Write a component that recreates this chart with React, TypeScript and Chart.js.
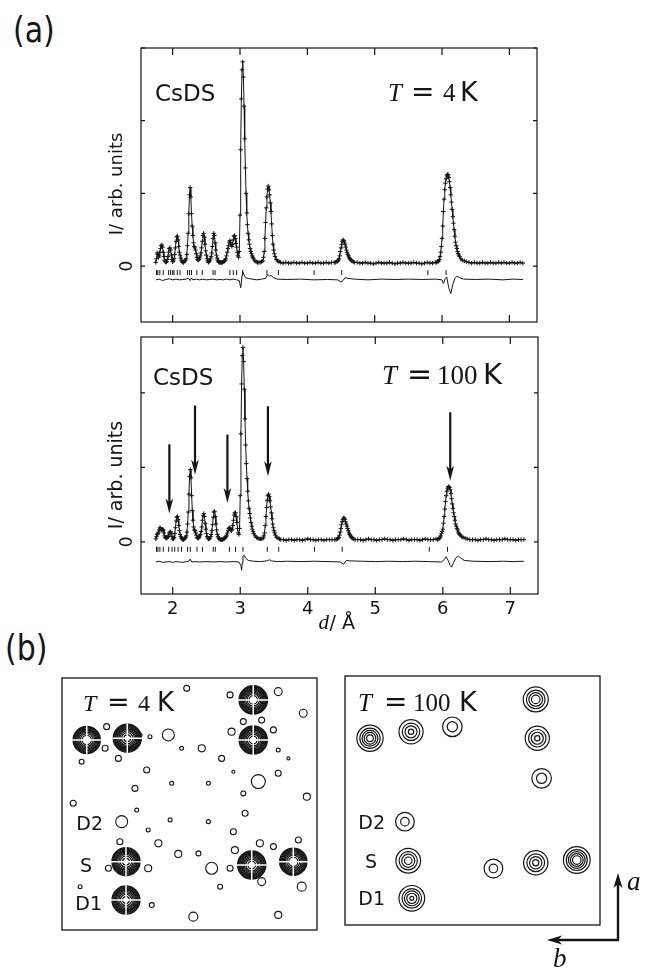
import React, { useEffect, useRef } from "react";
import { Chart, registerables } from "chart.js";
Chart.register(...registerables);

const SANS = '"DejaVu Sans", sans-serif';
const SERIF = '"Liberation Serif", "DejaVu Serif", serif';
const INK = "#151515";

// ---------------- panel (a): powder patterns ----------------
const X_TICKS = [2, 3, 4, 5, 6, 7];
const X_TICK_LABELS = ["2", "3", "4", "5", "6", "7"];
const Y_TICKS_4K = [0, 1, 2, 3];
const Y_TICKS_100K = [0, 1, 2];

// d-spacing sample positions (Å)
const D_GRID = [
  1.75, 1.76, 1.77, 1.78, 1.79,
  1.80, 1.81, 1.82, 1.83, 1.84, 1.85, 1.86, 1.87, 1.88, 1.89,
  1.90, 1.91, 1.92, 1.93, 1.94, 1.95, 1.96, 1.97, 1.98, 1.99,
  2.00, 2.01, 2.02, 2.03, 2.04, 2.05, 2.06, 2.07, 2.08, 2.09,
  2.10, 2.11, 2.12, 2.13, 2.14, 2.15, 2.16, 2.17, 2.18, 2.19,
  2.20, 2.21, 2.22, 2.23, 2.24, 2.25, 2.26, 2.27, 2.28, 2.29,
  2.30, 2.31, 2.32, 2.33, 2.34, 2.35, 2.36, 2.37, 2.38, 2.39,
  2.40, 2.41, 2.42, 2.43, 2.44, 2.45, 2.46, 2.47, 2.48, 2.49,
  2.50, 2.51, 2.52, 2.53, 2.54, 2.55, 2.56, 2.57, 2.58, 2.59,
  2.60, 2.61, 2.62, 2.63, 2.64, 2.65, 2.66, 2.67, 2.68, 2.69,
  2.70, 2.71, 2.72, 2.73, 2.74, 2.75, 2.76, 2.77, 2.78, 2.79,
  2.80, 2.81, 2.82, 2.83, 2.84, 2.85, 2.86, 2.87, 2.88, 2.89,
  2.90, 2.91, 2.92, 2.93, 2.94, 2.95, 2.96, 2.97, 2.98, 2.99,
  3.00, 3.01, 3.02, 3.03, 3.04, 3.05, 3.06, 3.07, 3.08, 3.09,
  3.10, 3.11, 3.12, 3.13, 3.14, 3.15, 3.16, 3.17, 3.18, 3.19,
  3.20,
  3.22, 3.24, 3.26, 3.28, 3.30, 3.32,
  3.34, 3.35, 3.36, 3.37, 3.38, 3.39, 3.40, 3.41, 3.42, 3.43,
  3.44, 3.45, 3.46, 3.47, 3.48, 3.49, 3.50, 3.51, 3.52,
  3.54, 3.56, 3.58, 3.60,
  3.64, 3.68, 3.72, 3.76, 3.80, 3.84, 3.88, 3.92, 3.96, 4.00,
  4.04, 4.08, 4.12, 4.16, 4.20, 4.24, 4.28, 4.32, 4.36, 4.40,
  4.42,
  4.44, 4.45, 4.46, 4.47, 4.48, 4.49, 4.50, 4.51, 4.52, 4.53,
  4.54, 4.55, 4.56, 4.57, 4.58, 4.59, 4.60, 4.61, 4.62, 4.63,
  4.64, 4.65, 4.66,
  4.68, 4.70,
  4.74, 4.78, 4.82, 4.86, 4.90, 4.94, 4.98, 5.02, 5.06, 5.10,
  5.14, 5.18, 5.22, 5.26, 5.30, 5.34, 5.38, 5.42, 5.46, 5.50,
  5.54, 5.58, 5.62, 5.66, 5.70, 5.74, 5.78, 5.82, 5.86, 5.90,
  5.92,
  5.94, 5.95, 5.96, 5.97, 5.98, 5.99,
  6.00, 6.01, 6.02, 6.03, 6.04, 6.05, 6.06, 6.07, 6.08, 6.09,
  6.10, 6.11, 6.12, 6.13, 6.14, 6.15, 6.16, 6.17, 6.18, 6.19,
  6.20, 6.21, 6.22, 6.23, 6.24, 6.25, 6.26,
  6.28, 6.30, 6.33, 6.36, 6.40,
  6.44, 6.48, 6.52, 6.56, 6.60, 6.64, 6.68, 6.72, 6.76, 6.80,
  6.84, 6.88, 6.92, 6.96, 7.00, 7.04, 7.08, 7.12, 7.16, 7.20,
];

// observed intensity, T = 4 K (arb. units)
const I_4K = [
  0.05, 0.10, 0.18, 0.16, 0.12,
  0.14, 0.19, 0.24, 0.28, 0.29, 0.26, 0.19, 0.13, 0.08, 0.06,
  0.05, 0.06, 0.09, 0.13, 0.19, 0.24, 0.25, 0.22, 0.15, 0.09,
  0.06, 0.07, 0.10, 0.16, 0.25, 0.34, 0.40, 0.41, 0.36, 0.27,
  0.19, 0.15, 0.11, 0.08, 0.06, 0.05, 0.05, 0.06, 0.07, 0.08,
  0.10, 0.16, 0.28, 0.45, 0.72, 0.98, 1.08, 0.95, 0.72, 0.55,
  0.42, 0.32, 0.27, 0.25, 0.22, 0.17, 0.12, 0.09, 0.08, 0.09,
  0.11, 0.14, 0.18, 0.25, 0.34, 0.42, 0.45, 0.40, 0.30, 0.21,
  0.15, 0.10, 0.07, 0.05, 0.06, 0.08, 0.10, 0.13, 0.18, 0.27,
  0.38, 0.45, 0.42, 0.32, 0.22, 0.15, 0.11, 0.08, 0.06, 0.05,
  0.05, 0.05, 0.05, 0.05, 0.05, 0.06, 0.06, 0.07, 0.08, 0.10,
  0.14, 0.19, 0.24, 0.28, 0.33, 0.35, 0.32, 0.29, 0.27, 0.30,
  0.36, 0.41, 0.42, 0.38, 0.31, 0.26, 0.19, 0.14, 0.12, 0.20,
  0.70, 1.60, 2.30, 2.70, 2.81, 2.60, 2.20, 1.75, 1.35, 1.00,
  0.73, 0.57, 0.45, 0.36, 0.30, 0.24, 0.20, 0.17, 0.14, 0.12,
  0.10,
  0.07, 0.06, 0.05, 0.05, 0.05, 0.06,
  0.07, 0.12, 0.20, 0.38, 0.60, 0.80, 0.95, 1.06, 1.10, 1.05,
  0.98, 0.87, 0.75, 0.58, 0.42, 0.30, 0.22, 0.17, 0.13,
  0.09, 0.07, 0.06, 0.05,
  0.04, 0.05, 0.04, 0.04, 0.05, 0.04, 0.04, 0.05, 0.04, 0.04,
  0.05, 0.04, 0.04, 0.05, 0.04, 0.04, 0.05, 0.04, 0.05, 0.05,
  0.05,
  0.06, 0.07, 0.08, 0.10, 0.14, 0.20, 0.25, 0.30, 0.34, 0.36,
  0.35, 0.33, 0.30, 0.26, 0.22, 0.19, 0.16, 0.14, 0.12, 0.10,
  0.09, 0.08, 0.07,
  0.06, 0.05,
  0.05, 0.04, 0.04, 0.05, 0.04, 0.04, 0.03, 0.04, 0.05, 0.04,
  0.04, 0.04, 0.05, 0.04, 0.03, 0.04, 0.04, 0.05, 0.04, 0.04,
  0.04, 0.05, 0.04, 0.04, 0.03, 0.04, 0.05, 0.04, 0.04, 0.05,
  0.05,
  0.06, 0.07, 0.09, 0.13, 0.19, 0.27,
  0.38, 0.55, 0.75, 0.92, 1.05, 1.14, 1.20, 1.24, 1.26, 1.26,
  1.22, 1.16, 1.08, 0.98, 0.88, 0.78, 0.68, 0.59, 0.50, 0.41,
  0.33, 0.28, 0.24, 0.20, 0.17, 0.15, 0.13,
  0.10, 0.08, 0.07, 0.06, 0.05,
  0.04, 0.05, 0.04, 0.04, 0.05, 0.04, 0.04, 0.05, 0.04, 0.04,
  0.05, 0.04, 0.05, 0.04, 0.04, 0.05, 0.04, 0.04, 0.05, 0.04,
];

// observed intensity, T = 100 K (arb. units)
const I_100K = [
  0.04, 0.07, 0.10, 0.11, 0.13,
  0.16, 0.19, 0.18, 0.16, 0.16, 0.17, 0.16, 0.12, 0.08, 0.06,
  0.05, 0.05, 0.06, 0.07, 0.09, 0.12, 0.13, 0.135, 0.11, 0.07,
  0.04, 0.04, 0.06, 0.11, 0.19, 0.28, 0.33, 0.34, 0.30, 0.22,
  0.15, 0.10, 0.07, 0.05, 0.04, 0.03, 0.03, 0.04, 0.05, 0.06,
  0.08, 0.13, 0.24, 0.40, 0.64, 0.88, 0.97, 0.86, 0.62, 0.42,
  0.29, 0.20, 0.16, 0.15, 0.12, 0.09, 0.06, 0.05, 0.05, 0.06,
  0.08, 0.10, 0.14, 0.20, 0.29, 0.35, 0.38, 0.34, 0.25, 0.17,
  0.11, 0.07, 0.05, 0.04, 0.04, 0.05, 0.07, 0.10, 0.15, 0.23,
  0.33, 0.40, 0.41, 0.34, 0.24, 0.16, 0.10, 0.07, 0.05, 0.04,
  0.03, 0.03, 0.03, 0.03, 0.03, 0.04, 0.04, 0.05, 0.06, 0.07,
  0.09, 0.12, 0.15, 0.18, 0.19, 0.18, 0.16, 0.15, 0.17, 0.22,
  0.29, 0.36, 0.39, 0.39, 0.34, 0.26, 0.18, 0.12, 0.10, 0.18,
  0.62, 1.45, 2.12, 2.50, 2.61, 2.42, 2.05, 1.65, 1.30, 1.05,
  0.85, 0.68, 0.55, 0.45, 0.38, 0.32, 0.26, 0.21, 0.17, 0.14,
  0.11,
  0.08, 0.06, 0.05, 0.04, 0.04, 0.04,
  0.05, 0.08, 0.12, 0.22, 0.34, 0.46, 0.56, 0.62, 0.64, 0.61,
  0.55, 0.47, 0.39, 0.31, 0.24, 0.19, 0.15, 0.12, 0.09,
  0.06, 0.05, 0.04, 0.03,
  0.03, 0.02, 0.03, 0.03, 0.02, 0.03, 0.03, 0.02, 0.03, 0.04,
  0.03, 0.03, 0.02, 0.03, 0.03, 0.02, 0.03, 0.03, 0.03, 0.03,
  0.03,
  0.04, 0.05, 0.06, 0.09, 0.13, 0.18, 0.23, 0.27, 0.30, 0.32,
  0.32, 0.30, 0.27, 0.24, 0.21, 0.18, 0.15, 0.12, 0.10, 0.09,
  0.07, 0.06, 0.05,
  0.04, 0.03,
  0.03, 0.03, 0.02, 0.03, 0.04, 0.03, 0.03, 0.02, 0.03, 0.03,
  0.04, 0.03, 0.03, 0.02, 0.03, 0.03, 0.03, 0.04, 0.03, 0.02,
  0.03, 0.03, 0.03, 0.02, 0.03, 0.04, 0.03, 0.03, 0.03, 0.04,
  0.03,
  0.04, 0.05, 0.06, 0.08, 0.11, 0.14,
  0.17, 0.25, 0.34, 0.44, 0.54, 0.62, 0.68, 0.72, 0.74, 0.74,
  0.73, 0.70, 0.65, 0.58, 0.51, 0.45, 0.39, 0.34, 0.29, 0.24,
  0.21, 0.18, 0.16, 0.13, 0.11, 0.10, 0.09,
  0.07, 0.06, 0.05, 0.04, 0.03,
  0.03, 0.03, 0.02, 0.03, 0.03, 0.04, 0.03, 0.03, 0.02, 0.03,
  0.03, 0.03, 0.04, 0.03, 0.03, 0.03, 0.02, 0.03, 0.03, 0.03,
];

// difference curves [d, obs - calc + offset]
const DIFF_4K = [
  [1.75, -0.19], [1.80, -0.18], [1.85, -0.2], [1.90, -0.185], [1.95, -0.175], [2.00, -0.19],
  [2.05, -0.18], [2.10, -0.19], [2.15, -0.185], [2.20, -0.18], [2.24, -0.17], [2.26, -0.2],
  [2.28, -0.165], [2.30, -0.19], [2.35, -0.18], [2.40, -0.19], [2.45, -0.18], [2.50, -0.19],
  [2.55, -0.185], [2.60, -0.18], [2.65, -0.19], [2.70, -0.185], [2.75, -0.19], [2.80, -0.18],
  [2.85, -0.19], [2.90, -0.18], [2.95, -0.19], [2.99, -0.2], [3.01, -0.3], [3.02, -0.24],
  [3.03, -0.12], [3.04, -0.08], [3.06, -0.12], [3.08, -0.16], [3.12, -0.17], [3.18, -0.18],
  [3.25, -0.19], [3.32, -0.18], [3.38, -0.17], [3.40, -0.13], [3.42, -0.12], [3.44, -0.14],
  [3.46, -0.13], [3.50, -0.16], [3.55, -0.18], [3.70, -0.185], [3.90, -0.18], [4.10, -0.19],
  [4.30, -0.185], [4.45, -0.19], [4.50, -0.22], [4.53, -0.2], [4.56, -0.16], [4.60, -0.17],
  [4.70, -0.18], [4.90, -0.19], [5.10, -0.18], [5.30, -0.185], [5.50, -0.18], [5.70, -0.185],
  [5.90, -0.18], [6.00, -0.19], [6.02, -0.24], [6.05, -0.17], [6.07, -0.15], [6.10, -0.3],
  [6.13, -0.38], [6.16, -0.25], [6.19, -0.17], [6.22, -0.14], [6.26, -0.16], [6.32, -0.18],
  [6.50, -0.185], [6.70, -0.18], [6.90, -0.19], [7.05, -0.18], [7.20, -0.185],
];
const DIFF_100K = [
  [1.75, -0.27], [1.80, -0.26], [1.85, -0.275], [1.90, -0.27], [1.95, -0.265], [2.00, -0.275],
  [2.05, -0.265], [2.10, -0.27], [2.15, -0.275], [2.20, -0.265], [2.24, -0.26], [2.26, -0.23],
  [2.28, -0.27], [2.32, -0.265], [2.40, -0.27], [2.50, -0.265], [2.60, -0.27], [2.70, -0.265],
  [2.80, -0.27], [2.90, -0.265], [2.98, -0.27], [3.01, -0.32], [3.02, -0.38], [3.03, -0.28],
  [3.04, -0.19], [3.06, -0.18], [3.08, -0.22], [3.12, -0.25], [3.20, -0.26], [3.30, -0.265],
  [3.40, -0.255], [3.43, -0.24], [3.46, -0.255], [3.55, -0.265], [3.70, -0.26], [3.90, -0.265],
  [4.10, -0.26], [4.30, -0.265], [4.48, -0.27], [4.53, -0.3], [4.57, -0.25], [4.62, -0.255],
  [4.80, -0.26], [5.00, -0.265], [5.20, -0.26], [5.40, -0.265], [5.60, -0.26], [5.80, -0.265],
  [5.98, -0.27], [6.02, -0.24], [6.05, -0.2], [6.08, -0.25], [6.11, -0.32], [6.13, -0.34],
  [6.16, -0.28], [6.19, -0.22], [6.23, -0.19], [6.27, -0.22], [6.32, -0.25], [6.45, -0.26],
  [6.70, -0.265], [6.90, -0.26], [7.05, -0.265], [7.20, -0.26],
];

// Bragg reflection positions (Å)
const REFL_4K = [1.76, 1.78, 1.81, 1.86, 1.94, 1.97, 2.0, 2.02, 2.07, 2.11, 2.22, 2.25, 2.28, 2.36, 2.44, 2.6, 2.63, 2.85, 2.9, 2.95, 3.04, 3.4, 3.57, 4.1, 4.51, 5.79, 6.06];
const REFL_100K = [1.76, 1.78, 1.81, 1.86, 1.94, 1.99, 2.03, 2.08, 2.13, 2.22, 2.26, 2.36, 2.44, 2.6, 2.63, 2.84, 2.93, 3.04, 3.4, 3.57, 4.1, 4.51, 5.8, 6.07];
const REFL_LEVEL_4K = -0.09;
const REFL_LEVEL_100K = -0.1;

// arrows marking reflections in the 100 K pattern: position, tail, tip (intensity units)
const ARROW_D = [1.95, 2.33, 2.81, 3.41, 6.11];
const ARROW_TAIL = [1.31, 1.83, 1.44, 1.82, 1.74];
const ARROW_TIP = [0.38, 0.9, 0.52, 0.88, 0.82];

// ---------------- panel (b): Fourier maps ----------------
// strong scattering-density peaks at 4 K: [u, v, amplitude]
const PEAKS_4K = [
  [0.097, 0.754, 10.5], [0.256, 0.761, 12], [0.75, 0.913, 13], [0.75, 0.754, 12.5],
  [0.251, 0.271, 12], [0.251, 0.119, 12], [0.744, 0.258, 12.5], [0.907, 0.271, 10.5],
];
// weak noise features at 4 K: [u, v, amplitude]
const WEAK_4K = [
  [0.489, 0.959, 1.12], [0.659, 0.933, 1.12], [0.848, 0.946, 1.22], [0.946, 0.86, 1.22],
  [0.175, 0.807, 1.12], [0.169, 0.721, 1.12], [0.221, 0.681, 1.12], [0.306, 0.774, 1.05],
  [0.345, 0.767, 1.05], [0.417, 0.774, 1.57], [0.077, 0.668, 1.08], [0.469, 0.721, 1.05],
  [0.548, 0.721, 1.17], [0.626, 0.681, 1.12], [0.711, 0.827, 1.12], [0.783, 0.833, 1.12],
  [0.829, 0.794, 1.12], [0.665, 0.787, 1.17], [0.848, 0.714, 1.05], [0.888, 0.681, 1.03],
  [0.332, 0.635, 1.12], [0.43, 0.582, 1.05], [0.574, 0.582, 1.05], [0.672, 0.628, 1.03],
  [0.77, 0.589, 1.85], [0.848, 0.622, 1.12], [0.711, 0.542, 1.08], [0.286, 0.562, 1.12],
  [0.044, 0.503, 1.12], [0.96, 0.529, 1.17], [0.293, 0.476, 1.05], [0.234, 0.43, 1.57],
  [0.424, 0.437, 1.05], [0.574, 0.43, 1.05], [0.718, 0.463, 1.12], [0.672, 0.39, 1.12],
  [0.227, 0.35, 1.12], [0.378, 0.344, 1.17], [0.456, 0.302, 1.17], [0.535, 0.304, 1.08],
  [0.587, 0.245, 1.57], [0.659, 0.245, 1.12], [0.776, 0.344, 1.17], [0.829, 0.331, 1.12],
  [0.927, 0.357, 1.12], [0.338, 0.245, 1.17], [0.182, 0.245, 1.12], [0.62, 0.172, 1.08],
  [0.783, 0.192, 1.22], [0.94, 0.172, 1.29], [0.352, 0.099, 1.08], [0.515, 0.053, 1.29],
  [0.848, 0.06, 1.17], [0.071, 0.172, 1.05], [0.338, 0.397, 1.05], [0.678, 0.317, 1.17],
];
const LEVELS_4K = [1, 1.3, 1.7, 2.2, 2.9, 3.7, 4.8, 6.2, 8.0, 10.4];

// peaks at 100 K: [u, v, amplitude]
const PEAKS_100K = [
  [0.098, 0.75, 5.6], [0.259, 0.776, 4.3], [0.421, 0.796, 2.6], [0.748, 0.906, 4.8],
  [0.754, 0.75, 4.3], [0.771, 0.589, 2.6], [0.235, 0.415, 2.4], [0.248, 0.258, 4.6],
  [0.582, 0.227, 2.4], [0.748, 0.25, 4.4], [0.909, 0.261, 6.0], [0.262, 0.107, 5.2],
];
const LEVELS_100K = [1, 2, 3, 4, 5];

// ---------------- helpers ----------------
const SIGMA_4K = 6.3; // px width of a peak on the map
const SIGMA_100K = 7.07;
const ringRadius = (amp, level, sigma) => (amp > level ? sigma * Math.sqrt(2 * Math.log(amp / level)) : 0);

function tempLabel(ctx, x, baseline, size, value, offs) {
  ctx.textAlign = "left";
  ctx.textBaseline = "alphabetic";
  ctx.fillStyle = INK;
  ctx.font = `italic ${size}px ${SERIF}`;
  ctx.fillText("T", x + offs[0], baseline);
  ctx.font = `${size + 3}px ${SANS}`;
  ctx.fillText("=", x + offs[1], baseline);
  ctx.font = `${size}px ${SERIF}`;
  ctx.fillText(value, x + offs[2], baseline);
  ctx.font = `${Math.round(size * 1.08)}px ${SANS}`;
  ctx.fillText("K", x + offs[3], baseline);
}

function patternPlugin(p) {
  return {
    id: "patternFrame",
    afterDraw(chart) {
      const { ctx, chartArea: a } = chart;
      const xs = chart.scales.x;
      const ys = chart.scales.y;
      ctx.save();
      ctx.strokeStyle = INK;
      ctx.lineWidth = 1.2;
      ctx.strokeRect(a.left, a.top, a.right - a.left, a.bottom - a.top);
      ctx.beginPath();
      X_TICKS.forEach((t) => {
        const px = xs.getPixelForValue(t);
        ctx.moveTo(px, a.bottom);
        ctx.lineTo(px, a.bottom - 7);
        ctx.moveTo(px, a.top);
        ctx.lineTo(px, a.top + 7);
      });
      p.yTicks.forEach((t) => {
        const py = ys.getPixelForValue(t);
        ctx.moveTo(a.left, py);
        ctx.lineTo(a.left + 4, py);
        ctx.moveTo(a.right, py);
        ctx.lineTo(a.right - 4, py);
      });
      ctx.stroke();

      // arrows
      if (p.arrows) {
        ARROW_D.forEach((d, i) => {
          const px = xs.getPixelForValue(d);
          const y1 = ys.getPixelForValue(ARROW_TAIL[i]);
          const y2 = ys.getPixelForValue(ARROW_TIP[i]);
          ctx.lineWidth = 2.2;
          ctx.beginPath();
          ctx.moveTo(px, y1);
          ctx.lineTo(px, y2 - 10);
          ctx.stroke();
          ctx.beginPath();
          ctx.moveTo(px, y2);
          ctx.lineTo(px - 3.8, y2 - 15);
          ctx.lineTo(px, y2 - 11);
          ctx.lineTo(px + 3.8, y2 - 15);
          ctx.closePath();
          ctx.fillStyle = INK;
          ctx.fill();
        });
      }

      ctx.fillStyle = INK;
      // sample name
      ctx.font = `23px ${SANS}`;
      ctx.textAlign = "left";
      ctx.textBaseline = "alphabetic";
      ctx.fillText("CsDS", a.left + p.nameDx, a.top + p.nameDy);
      tempLabel(ctx, a.left + p.tDx, a.top + p.tDy, p.tSize, p.tValue, p.tOffs);

      // y-axis title and zero label (rotated)
      ctx.save();
      ctx.translate(a.left - 24, a.top + p.yTitleDy);
      ctx.rotate(-Math.PI / 2);
      ctx.font = `${p.yTitleSize}px ${SANS}`;
      ctx.textAlign = "center";
      ctx.textBaseline = "middle";
      ctx.fillText("I/ arb. units", 0, 0);
      ctx.restore();
      ctx.save();
      ctx.translate(a.left - 13, ys.getPixelForValue(0));
      ctx.rotate(-Math.PI / 2);
      ctx.font = `17px ${SANS}`;
      ctx.textAlign = "center";
      ctx.textBaseline = "middle";
      ctx.fillText("0", 0, 0);
      ctx.restore();

      if (p.xLabels) {
        ctx.font = `18px ${SANS}`;
        ctx.textAlign = "center";
        ctx.textBaseline = "middle";
        X_TICKS.forEach((t, i) => ctx.fillText(X_TICK_LABELS[i], xs.getPixelForValue(t), a.bottom + 15));
        const cx = (a.left + a.right) / 2;
        const base = a.bottom + 35;
        ctx.textAlign = "left";
        ctx.textBaseline = "alphabetic";
        ctx.font = `italic 21px ${SERIF}`;
        ctx.fillText("d", cx - 21, base);
        ctx.font = `19px ${SANS}`;
        ctx.fillText("/ Å", cx - 10, base);
      }
      ctx.restore();
    },
  };
}

function patternConfig(p) {
  const obs = D_GRID.slice(0, p.intensity.length).map((d, i) => ({ x: d, y: p.intensity[i] }));
  return {
    type: "scatter",
    data: {
      datasets: [
        {
          data: obs,
          showLine: true,
          borderColor: INK,
          borderWidth: 1,
          pointStyle: "cross",
          pointRadius: 2.2,
          pointBorderColor: INK,
          pointBorderWidth: 1,
          order: 1,
        },
        {
          data: p.diff.map(([x, y]) => ({ x, y })),
          showLine: true,
          borderColor: INK,
          borderWidth: 1,
          pointRadius: 0,
          order: 2,
        },
        {
          data: p.refl.map((d) => ({ x: d, y: p.reflLevel })),
          showLine: false,
          pointStyle: "line",
          pointRotation: 90,
          pointRadius: 2.5,
          pointBorderColor: INK,
          pointBorderWidth: 1,
          order: 3,
        },
      ],
    },
    options: {
      responsive: false,
      maintainAspectRatio: false,
      animation: false,
      devicePixelRatio: 1,
      events: [],
      layout: { padding: p.padding, autoPadding: false },
      plugins: { legend: { display: false }, tooltip: { enabled: false } },
      elements: { line: { tension: 0 } },
      scales: {
        x: { type: "linear", min: 1.53, max: 7.41, display: false },
        y: { type: "linear", min: p.ymin, max: p.ymax, display: false },
      },
    },
    plugins: [patternPlugin(p)],
  };
}

function mapPlugin(m) {
  return {
    id: "mapFrame",
    afterDraw(chart) {
      const { ctx, chartArea: a } = chart;
      ctx.save();
      ctx.strokeStyle = INK;
      ctx.lineWidth = 1.3;
      ctx.strokeRect(a.left, a.top, a.right - a.left, a.bottom - a.top);
      tempLabel(ctx, a.left + m.tDx, a.top + m.tDy, m.tSize, m.tValue, m.tOffs);
      ctx.font = `19px ${SANS}`;
      ctx.textAlign = "right";
      ctx.textBaseline = "alphabetic";
      ctx.fillStyle = INK;
      m.labels.forEach(([t, dx, dy]) => ctx.fillText(t, a.left + dx, a.top + dy));
      if (m.axes) {
        const cx = a.right + 18;
        const cy = a.bottom + 15;
        ctx.lineWidth = 2.4;
        ctx.beginPath();
        ctx.moveTo(cx, cy + 1);
        ctx.lineTo(cx, a.bottom - 52 + 10);
        ctx.moveTo(cx + 1, cy);
        ctx.lineTo(a.right - 53 + 10, cy);
        ctx.stroke();
        ctx.beginPath();
        const ty = a.bottom - 52;
        ctx.moveTo(cx, ty);
        ctx.lineTo(cx - 4.5, ty + 15);
        ctx.lineTo(cx, ty + 11);
        ctx.lineTo(cx + 4.5, ty + 15);
        ctx.closePath();
        const tx = a.right - 53;
        ctx.moveTo(tx, cy);
        ctx.lineTo(tx + 15, cy - 4.5);
        ctx.lineTo(tx + 11, cy);
        ctx.lineTo(tx + 15, cy + 4.5);
        ctx.closePath();
        ctx.fill();
        ctx.font = `italic 27px ${SERIF}`;
        ctx.textAlign = "left";
        ctx.fillText("a", a.right + 27, a.bottom - 35);
        ctx.fillText("b", a.right - 47, a.bottom + 42);
      }
      ctx.restore();
    },
  };
}

function mapConfig(m) {
  const pts = (arr) => arr.map(([u, v]) => ({ x: u, y: v }));
  const datasets = [];
  m.levels.forEach((L) => {
    datasets.push({
      data: pts(m.peaks),
      pointStyle: "circle",
      pointRadius: m.peaks.map((p) => ringRadius(p[2], L, m.sigma)),
      pointBackgroundColor: "rgba(0,0,0,0)",
      pointBorderColor: INK,
      pointBorderWidth: m.ringWidth,
      order: 5,
    });
  });
  if (m.weak) {
    datasets.push({
      data: pts(m.weak),
      pointStyle: "circle",
      pointRadius: m.weak.map((p) => ringRadius(p[2], m.levels[0], m.sigma)),
      pointBackgroundColor: "rgba(0,0,0,0)",
      pointBorderColor: INK,
      pointBorderWidth: 1.1,
      order: 5,
    });
  }
  if (m.crossed) {
    datasets.push({
      data: pts(m.peaks),
      pointStyle: "cross",
      pointRadius: m.peaks.map((p) => ringRadius(p[2], m.levels[0], m.sigma) + 1),
      pointBorderColor: "#ffffff",
      pointBorderWidth: 1.5,
      order: 1,
    });
    datasets.push({
      data: pts(m.peaks),
      pointStyle: "circle",
      pointRadius: 2,
      pointBackgroundColor: "#ffffff",
      pointBorderWidth: 0,
      pointBorderColor: "#ffffff",
      order: 0,
    });
  }
  return {
    type: "scatter",
    data: { datasets: datasets.map((d) => ({ ...d, clip: false, showLine: false })) },
    options: {
      responsive: false,
      maintainAspectRatio: false,
      animation: false,
      devicePixelRatio: 1,
      events: [],
      layout: { padding: m.padding, autoPadding: false },
      plugins: { legend: { display: false }, tooltip: { enabled: false } },
      scales: {
        x: { type: "linear", min: 0, max: 1, display: false },
        y: { type: "linear", min: 0, max: 1, display: false },
      },
    },
    plugins: [mapPlugin(m)],
  };
}

function ChartCanvas({ left, top, width, height, build }) {
  const ref = useRef(null);
  useEffect(() => {
    const chart = new Chart(ref.current, build());
    return () => chart.destroy();
  }, []);
  return (
    <canvas
      ref={ref}
      width={width}
      height={height}
      style={{ position: "absolute", left, top, width, height }}
    />
  );
}

const panelLabel = (left, top) => ({
  position: "absolute" as const,
  left,
  top,
  fontFamily: SANS,
  fontSize: 30,
  lineHeight: "30px",
  color: INK,
  transform: "scaleY(1.18)",
  transformOrigin: "left center",
});

export default function App() {
  return (
    <div style={{ position: "absolute", left: 0, top: 0, width: 645, height: 971, background: "#fff", overflow: "hidden" }}>
      <div style={panelLabel(13, 15)}>(a)</div>
      <div style={panelLabel(5, 633)}>(b)</div>
      <ChartCanvas
        left={100}
        top={40}
        width={460}
        height={290}
        build={() =>
          patternConfig({
            intensity: I_4K,
            diff: DIFF_4K,
            refl: REFL_4K,
            reflLevel: REFL_LEVEL_4K,
            ymin: -0.77,
            ymax: 3.0,
            yTicks: Y_TICKS_4K,
            padding: { left: 41, right: 23, top: 8, bottom: 8 },
            nameDx: 14,
            nameDy: 53,
            tDx: 247,
            tDy: 53,
            tSize: 25,
            tValue: "4",
            tOffs: [0, 23, 55, 72],
            yTitleDy: 136,
            yTitleSize: 18,
            arrows: false,
            xLabels: false,
          })
        }
      />
      <ChartCanvas
        left={100}
        top={330}
        width={460}
        height={310}
        build={() =>
          patternConfig({
            intensity: I_100K,
            diff: DIFF_100K,
            refl: REFL_100K,
            reflLevel: REFL_LEVEL_100K,
            ymin: -0.7,
            ymax: 2.75,
            yTicks: Y_TICKS_100K,
            padding: { left: 41, right: 22, top: 7, bottom: 46 },
            nameDx: 12,
            nameDy: 48,
            tDx: 241,
            tDy: 47,
            tSize: 27,
            tValue: "100",
            tOffs: [0, 25, 55, 101],
            yTitleDy: 138,
            yTitleSize: 19,
            arrows: true,
            xLabels: true,
          })
        }
      />
      <ChartCanvas
        left={56}
        top={672}
        width={266}
        height={264}
        build={() =>
          mapConfig({
            peaks: PEAKS_4K,
            weak: WEAK_4K,
            levels: LEVELS_4K,
            sigma: SIGMA_4K,
            ringWidth: 1.25,
            crossed: true,
            padding: { left: 6, right: 5, top: 6, bottom: 6 },
            tDx: 21,
            tDy: 33,
            tSize: 24,
            tValue: "4",
            tOffs: [0, 24, 55, 74],
            labels: [["D2", 41, 151.5], ["S", 30, 193.5], ["D1", 40, 231.5]],
            axes: false,
          })
        }
      />
      <ChartCanvas
        left={340}
        top={670}
        width={305}
        height={301}
        build={() =>
          mapConfig({
            peaks: PEAKS_100K,
            weak: null,
            levels: LEVELS_100K,
            sigma: SIGMA_100K,
            ringWidth: 1.2,
            crossed: false,
            padding: { left: 5, right: 45, top: 6, bottom: 46 },
            tDx: 13,
            tDy: 35,
            tSize: 25,
            tValue: "100",
            tOffs: [0, 26, 55, 101],
            labels: [["D2", 40, 152.5], ["S", 32, 191.5], ["D1", 40, 228.5]],
            axes: true,
          })
        }
      />
    </div>
  );
}
